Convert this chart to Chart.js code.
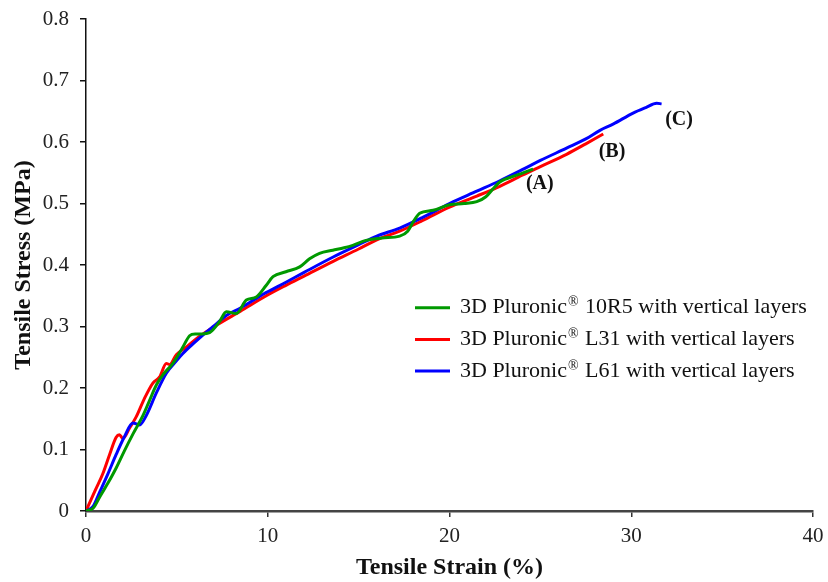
<!DOCTYPE html>
<html>
<head>
<meta charset="utf-8">
<script src="https://cdn.jsdelivr.net/npm/chart.js@4"></script>
<style>
html,body{margin:0;padding:0;background:#fff;}
#wrap{width:828px;height:582px;}
</style>
</head>
<body>
<div id="wrap"><canvas id="c" width="828" height="582"></canvas></div>
<script>
// ---- data ----
const seriesNames = ["3D Pluronic\u00AE 10R5 with vertical layers", "3D Pluronic\u00AE L31 with vertical layers", "3D Pluronic\u00AE L61 with vertical layers"];
const seriesColors = ["#009900", "#ff0000", "#0000ff"];

const greenX = [0,0.4,0.74,1.2,1.66,2.1,2.58,3.13,3.5,3.87,4.3,4.78,5.3,5.7,6.0,6.4,6.8,7.35,7.72,8.27,8.82,9.37,9.92,10.29,11.0,11.76,12.3,12.85,13.58,14.2,14.68,15.4,16.3,17.26,17.7,18.0,18.36,19.1,20.0,20.8,21.5,22.0,22.4,22.77,23.7,24.6];
const greenY = [0,0.005,0.022,0.045,0.07,0.097,0.125,0.155,0.18,0.205,0.224,0.24,0.265,0.285,0.288,0.288,0.29,0.308,0.324,0.321,0.343,0.348,0.367,0.381,0.389,0.397,0.41,0.419,0.424,0.428,0.432,0.44,0.444,0.447,0.455,0.47,0.484,0.489,0.498,0.5,0.503,0.511,0.524,0.535,0.546,0.556];

const redX = [0,0.5,0.93,1.3,1.66,1.84,2.03,2.4,2.76,3.2,3.68,4.05,4.42,4.6,4.97,5.5,6.2,7.17,8.5,9.92,11,12,13.6,15,16,17.26,18.5,20,21.5,22.77,24,25,26.44,27.5,28.46];
const redY = [0,0.033,0.061,0.092,0.12,0.124,0.118,0.135,0.153,0.182,0.208,0.218,0.24,0.238,0.254,0.266,0.283,0.302,0.325,0.35,0.367,0.382,0.406,0.426,0.441,0.455,0.472,0.494,0.512,0.528,0.546,0.56,0.58,0.597,0.613];

const blueX = [0,0.4,0.74,1.2,1.66,2.1,2.58,2.95,3.31,3.87,4.42,5.0,5.33,5.9,6.43,7.0,7.72,8.5,9.9,11,12,13.6,15,16,17.26,18.5,20,21.5,22.77,24,25,26.44,27.5,28.28,29,30.1,30.8,31.4,31.67];
const blueY = [0,0.008,0.03,0.06,0.092,0.12,0.143,0.14,0.155,0.192,0.224,0.245,0.256,0.272,0.286,0.3,0.318,0.33,0.355,0.372,0.388,0.413,0.433,0.447,0.46,0.477,0.5,0.52,0.537,0.555,0.57,0.59,0.605,0.619,0.629,0.647,0.656,0.663,0.662];

const xTicks = [0,10,20,30,40];
const yTicks = [0,0.1,0.2,0.3,0.4,0.5,0.6,0.7,0.8];
const curveLabels = ["(A)", "(B)", "(C)"];
const curveLabelX = [24.97, 28.94, 32.63];
const curveLabelY = [0.532, 0.584, 0.636];

// ---- build ----
function pts(xs, ys){ return xs.map((x,i)=>({x:x, y:ys[i]})); }
const datasets = [
  {label: seriesNames[0], data: pts(greenX, greenY), borderColor: seriesColors[0]},
  {label: seriesNames[1], data: pts(redX, redY), borderColor: seriesColors[1]},
  {label: seriesNames[2], data: pts(blueX, blueY), borderColor: seriesColors[2]}
].map(d => Object.assign(d, {borderWidth: 3, pointRadius: 0, fill: false, cubicInterpolationMode: 'monotone', backgroundColor: d.borderColor}));
datasets[0].order = 0; datasets[1].order = 2; datasets[2].order = 1;

const SERIF = "'Liberation Serif', 'Times New Roman', serif";

const decoPlugin = {
  id: 'deco',
  afterDatasetsDraw(chart){
    const ctx = chart.ctx;
    const xs = chart.scales.x, ys = chart.scales.y;
    ctx.save();
    ctx.fillStyle = '#111';
    ctx.font = "bold 20px " + SERIF;
    ctx.textAlign = 'center';
    ctx.textBaseline = 'middle';
    curveLabels.forEach((t,i)=>{
      ctx.fillText(t, xs.getPixelForValue(curveLabelX[i]), ys.getPixelForValue(curveLabelY[i]));
    });
    const lx0 = 415, lx1 = 450, tx = 460;
    const rowY = [307.7, 339.4, 371];
    ctx.textAlign = 'left';
    ctx.textBaseline = 'middle';
    seriesNames.forEach((name,i)=>{
      const y = rowY[i];
      ctx.strokeStyle = seriesColors[i];
      ctx.lineWidth = 3;
      ctx.beginPath(); ctx.moveTo(lx0, y); ctx.lineTo(lx1, y); ctx.stroke();
      const parts = name.split('\u00AE');
      ctx.fillStyle = '#111';
      ctx.font = "22px " + SERIF;
      let x = tx;
      ctx.fillText(parts[0], x, y);
      x += ctx.measureText(parts[0]).width + 1;
      ctx.font = "14px " + SERIF;
      ctx.fillText('\u00AE', x, y - 5);
      x += ctx.measureText('\u00AE').width + 1;
      ctx.font = "22px " + SERIF;
      ctx.fillText(parts[1], x, y);
    });
    ctx.restore();
  }
};

new Chart(document.getElementById('c'), {
  type: 'line',
  data: {datasets},
  options: {
    responsive: false,
    devicePixelRatio: 1,
    animation: false,
    layout: {padding: {top: 19, right: 15, left: 0, bottom: 0}},
    plugins: {legend: {display: false}, tooltip: {enabled: false}},
    scales: {
      x: {
        type: 'linear', min: 0, max: 40,
        afterBuildTicks: s => { s.ticks = xTicks.map(v=>({value:v})); },
        afterFit: s => { s.height = 71; s.paddingLeft = 0; s.paddingRight = 0; },
        ticks: {color: '#222', font: {family: SERIF, size: 21}, padding: 7, maxRotation: 0,
                callback: v => String(v)},
        grid: {drawOnChartArea: false, drawTicks: true, tickLength: 6, color: '#333', lineWidth: 1.5},
        border: {display: true, color: '#444', width: 2.5},
        title: {display: true, text: 'Tensile Strain (%)', color: '#111',
                font: {family: SERIF, size: 24, weight: 'bold'}, padding: {top: 4, bottom: 0}}
      },
      y: {
        type: 'linear', min: 0, max: 0.8,
        afterBuildTicks: s => { s.ticks = yTicks.map(v=>({value:v})); },
        afterFit: s => { s.width = 86; s.paddingTop = 0; s.paddingBottom = 0; },
        ticks: {color: '#222', font: {family: SERIF, size: 21}, padding: 11,
                callback: v => v === 0 ? '0' : v.toFixed(1)},
        grid: {drawOnChartArea: false, drawTicks: true, tickLength: 6, color: '#111', lineWidth: 1.5},
        border: {display: true, color: '#111', width: 1.5},
        title: {display: true, text: 'Tensile Stress (MPa)', color: '#111',
                font: {family: SERIF, size: 24, weight: 'bold'}, padding: {top: 9, bottom: 0}}
      }
    }
  },
  plugins: [decoPlugin]
});
</script>
</body>
</html>
